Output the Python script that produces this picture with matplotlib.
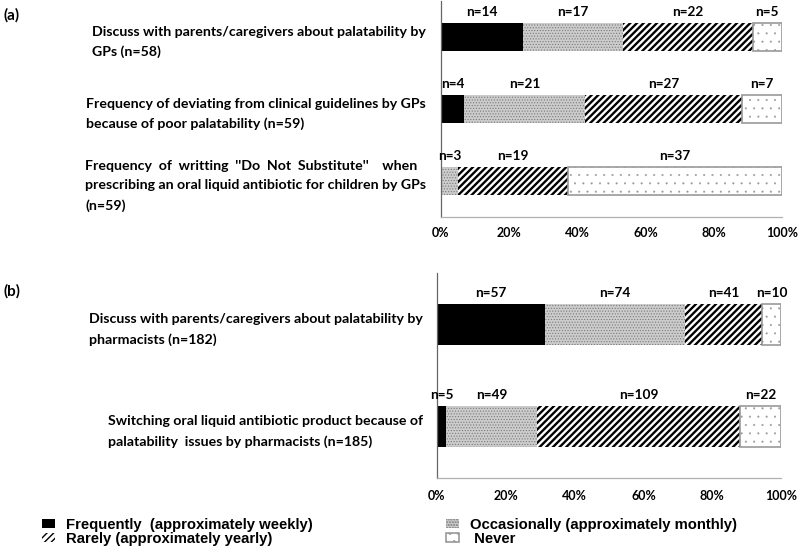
import matplotlib
matplotlib.use("Agg")
import matplotlib.pyplot as plt
from matplotlib.patches import Patch
import numpy as np

# ---------------- data ----------------
categories_a = [
    "Discuss with parents/caregivers about palatability by\nGPs (n=58)",
    "Frequency of deviating from clinical guidelines by GPs\nbecause of poor palatability (n=59)",
    "Frequency  of  writting  ''Do  Not  Substitute''    when\nprescribing an oral liquid antibiotic for children by GPs\n(n=59)",
]
frequently_a = [14, 4, 0]
occasionally_a = [17, 21, 3]
rarely_a = [22, 27, 19]
never_a = [5, 7, 37]

categories_b = [
    "Discuss with parents/caregivers about palatability by\npharmacists (n=182)",
    "Switching oral liquid antibiotic product because of\npalatability  issues by pharmacists (n=185)",
]
frequently_b = [57, 5]
occasionally_b = [74, 49]
rarely_b = [41, 109]
never_b = [10, 22]

series_names = [
    "Frequently  (approximately weekly)",
    "Occasionally (approximately monthly)",
    "Rarely (approximately yearly)",
    " Never",
]
xtick_values = [0, 20, 40, 60, 80, 100]
panel_labels = ["(a)", "(b)"]

# ---------------- styles ----------------
styles = [
    dict(facecolor="black", edgecolor="black", hatch=None, linewidth=0, hlw=1.0),
    dict(facecolor="#cccccc", edgecolor="#7a7a7a", hatch="......", linewidth=0, hlw=0.5),
    dict(facecolor="white", edgecolor="black", hatch="/////", linewidth=0, hlw=1.7),
    dict(facecolor="white", edgecolor="#999999", hatch="..", linewidth=1.2, hlw=0.25),
]

LBL = dict(family="Lato", fontweight="bold", fontsize=10.2)
NFONT = dict(family="Lato", fontweight="bold", fontsize=9.8)
TFONT = dict(family="Lato", fontweight="bold", fontsize=9)

fig = plt.figure(figsize=(8, 5.52), dpi=100)


def draw(ax, cats, series, ypad, xpad):
    series = [np.asarray(s, dtype=float) for s in series]
    totals = np.sum(series, axis=0)
    y = np.arange(len(cats))
    left = np.zeros(len(cats))
    for vals, st in zip(series, styles):
        pct = vals / totals * 100
        with plt.rc_context({"hatch.linewidth": st["hlw"]}):
            bars = ax.barh(y, pct, left=left, height=0.4,
                           facecolor=st["facecolor"], edgecolor=st["edgecolor"],
                           hatch=st["hatch"], linewidth=st["linewidth"])
        for b in bars:
            if hasattr(b, "set_hatch_linewidth"):
                b.set_hatch_linewidth(st["hlw"])
        for yi, v, l, p in zip(y, vals, left, pct):
            if v > 0:
                ax.annotate(f"n={int(v)}", (l + p / 2, yi - 0.2),
                            xytext=(0, 5), textcoords="offset points",
                            ha="center", va="baseline", **NFONT)
        left = left + pct
    ax.set_xlim(0, 100)
    ax.set_ylim(len(cats) - 0.5, -0.5)
    ax.set_yticks(y)
    ax.set_yticklabels(cats, ha="right", multialignment="left",
                       linespacing=1.75, **LBL)
    ax.set_xticks(xtick_values)
    ax.set_xticklabels([f"{v}%" for v in xtick_values], **TFONT)
    ax.tick_params(axis="y", length=0, pad=ypad)
    ax.tick_params(axis="x", length=0, pad=xpad)
    for s in ["top", "right"]:
        ax.spines[s].set_visible(False)
    ax.spines["left"].set_color("#666666")
    ax.spines["bottom"].set_color("#b0b0b0")
    ax.spines["left"].set_linewidth(0.9)
    ax.spines["bottom"].set_linewidth(0.9)


ax1 = fig.add_axes([441 / 800, (552 - 217) / 552, 341 / 800, 216 / 552])
draw(ax1, categories_a, [frequently_a, occasionally_a, rarely_a, never_a], 10.8, 7)
ax2 = fig.add_axes([437 / 800, (552 - 478) / 552, 344 / 800, 205 / 552])
draw(ax2, categories_b, [frequently_b, occasionally_b, rarely_b, never_b], 10, 9)

fig.text(4 / 800, 1 - 15 / 552, panel_labels[0], ha="left", va="center",
         family="Lato", fontweight="bold", fontsize=11)
fig.text(4 / 800, 1 - 291 / 552, panel_labels[1], ha="left", va="center",
         family="Lato", fontweight="bold", fontsize=11)

# legend (column-major order: F, R | O, N)
handles = []
for st, name in zip(styles, series_names):
    with plt.rc_context({"hatch.linewidth": st["hlw"]}):
        h = Patch(facecolor=st["facecolor"], edgecolor=st["edgecolor"],
                  hatch=st["hatch"], linewidth=st["linewidth"], label=name)
    if hasattr(h, "set_hatch_linewidth"):
        h.set_hatch_linewidth(st["hlw"])
    handles.append(h)
order = [0, 2, 1, 3]
fig.legend([handles[i] for i in order], [series_names[i] for i in order],
           loc="upper left", bbox_to_anchor=(42 / 800, 1 - 518 / 552),
           ncol=2, frameon=False, borderpad=0, borderaxespad=0,
           handlelength=0.85, handleheight=0.6, handletextpad=0.75,
           labelspacing=0.0, columnspacing=9.0,
           prop=dict(family="Liberation Sans", weight="bold", size=10.7))

fig.savefig("out.png", dpi=100)
